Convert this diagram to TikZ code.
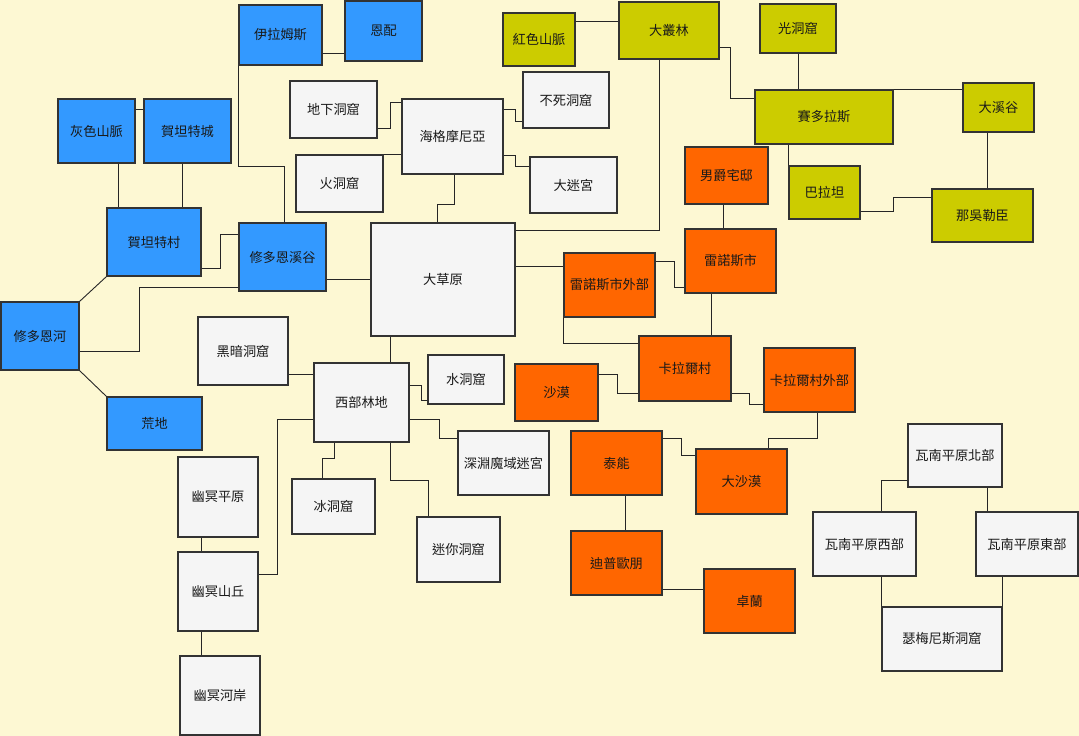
\documentclass[tikz,border=0pt]{standalone}
\usepackage{fontspec}
\setmainfont{Noto Sans CJK TC}
\definecolor{bgc}{HTML}{FDF8D3}
\definecolor{bluec}{HTML}{3399FF}
\definecolor{whitec}{HTML}{F5F5F5}
\definecolor{yelc}{HTML}{CCCC00}
\definecolor{orc}{HTML}{FF6600}
\definecolor{edgec}{HTML}{333333}
\newcommand\mybox[7]{\node[box,#6,minimum width={(#4-#2)*1pt},minimum height={(#5-#3)*1pt}] (#1) at ({(#2+#4)/2},{(#3+#5)/2}) {#7};}
\tikzset{
  box/.style={draw=edgec,line width=1.1pt,inner sep=0pt,font=\fontsize{13.2}{15}\selectfont,text=black!90},
  bl/.style={fill=bluec},
  wh/.style={fill=whitec},
  ye/.style={fill=yelc},
  orn/.style={fill=orc},
  conn/.style={draw=black!85,line width=0.9pt}
}
\begin{document}
\begin{tikzpicture}[x=1pt,y=-1pt]
\useasboundingbox (0,0) rectangle (1079,736);
\fill[bgc] (0,0) rectangle (1079,736);
% blue
\mybox{ilams}{239}{5}{322}{65}{bl}{伊拉姆斯}
\mybox{enpei}{345}{1}{422}{61}{bl}{恩配}
\mybox{huise}{58}{99}{135}{163}{bl}{灰色山脈}
\mybox{htcity}{144}{99}{231}{163}{bl}{賀坦特城}
\mybox{htvil}{107}{208}{201}{276}{bl}{賀坦特村}
\mybox{xdvalley}{239}{223}{326}{291}{bl}{修多恩溪谷}
\mybox{xdriver}{1}{302}{79}{370}{bl}{修多恩河}
\mybox{huangdi}{107}{397}{202}{450}{bl}{荒地}
% white
\mybox{dixia}{290}{81}{377}{138}{wh}{地下洞窟}
\mybox{hgmny}{402}{99}{503}{174}{wh}{海格摩尼亞}
\mybox{huo}{296}{155}{383}{212}{wh}{火洞窟}
\mybox{dcy}{371}{223}{515}{336}{wh}{大草原}
\mybox{busi}{523}{72}{609}{128}{wh}{不死洞窟}
\mybox{dmg}{530}{157}{617}{213}{wh}{大迷宮}
\mybox{heian}{198}{317}{288}{385}{wh}{黑暗洞窟}
\mybox{xblin}{314}{363}{409}{442}{wh}{西部林地}
\mybox{shui}{428}{355}{504}{404}{wh}{水洞窟}
\mybox{shenyuan}{458}{431}{549}{495}{wh}{深淵魔域迷宮}
\mybox{bing}{292}{479}{375}{534}{wh}{冰洞窟}
\mybox{mini}{417}{517}{500}{582}{wh}{迷你洞窟}
\mybox{ympy}{178}{457}{258}{537}{wh}{幽冥平原}
\mybox{ymsq}{178}{552}{258}{631}{wh}{幽冥山丘}
\mybox{ymha}{180}{656}{260}{735}{wh}{幽冥河岸}
\mybox{wnb}{908}{424}{1002}{487}{wh}{瓦南平原北部}
\mybox{wnx}{813}{512}{916}{576}{wh}{瓦南平原西部}
\mybox{wnd}{976}{512}{1078}{576}{wh}{瓦南平原東部}
\mybox{smns}{882}{607}{1002}{671}{wh}{瑟梅尼斯洞窟}
% yellow
\mybox{hongse}{503}{13}{575}{66}{ye}{紅色山脈}
\mybox{dcl}{619}{2}{719}{59}{ye}{大叢林}
\mybox{guang}{760}{4}{836}{53}{ye}{光洞窟}
\mybox{sdls}{755}{90}{893}{144}{ye}{賽多拉斯}
\mybox{dxg}{963}{83}{1034}{132}{ye}{大溪谷}
\mybox{blt}{789}{166}{860}{219}{ye}{巴拉坦}
\mybox{nwlc}{932}{189}{1033}{242}{ye}{那吳勒臣}
% orange
\mybox{njzd}{685}{147}{768}{204}{orn}{男爵宅邸}
\mybox{lnss}{685}{229}{776}{293}{orn}{雷諾斯市}
\mybox{lnsw}{564}{253}{655}{317}{orn}{雷諾斯市外部}
\mybox{klev}{639}{336}{731}{401}{orn}{卡拉爾村}
\mybox{klew}{764}{348}{855}{412}{orn}{卡拉爾村外部}
\mybox{shamo}{515}{364}{598}{421}{orn}{沙漠}
\mybox{taineng}{571}{431}{662}{495}{orn}{泰能}
\mybox{dsm}{696}{449}{787}{514}{orn}{大沙漠}
\mybox{dpob}{571}{531}{662}{595}{orn}{迪普歐朋}
\mybox{zhuolan}{704}{569}{795}{633}{orn}{卓蘭}
% connectors
\begin{scope}[every path/.style=conn]
\draw (ilams.east |- 0,53) -- (enpei.west |- 0,53);
\draw (ilams.south west) |- (284,166) -- (284,0 |- xdvalley.north);
\draw (huise.east |- 0,109) -- (htcity.west |- 0,109);
\draw (118,0 |- huise.south) -- (118,0 |- htvil.north);
\draw (182,0 |- htcity.south) -- (182,0 |- htvil.north);
\draw (htvil.east |- 0,268) -| (220,234) -- (xdvalley.west |- 0,234);
\draw (htvil.south west) -- (xdriver.north east);
\draw (xdvalley.west |- 0,287) -| (139,351) -- (xdriver.east |- 0,351);
\draw (xdvalley.east |- 0,279) -- (dcy.west |- 0,279);
\draw (xdriver.south east) -- (huangdi.north west);
\draw (dixia.east |- 0,128) -| (390,102) -- (hgmny.west |- 0,102);
\draw (huo.north east) -- (hgmny.west |- huo.north east);
\draw (hgmny.east |- 0,109) -| (515,121) -- (busi.west |- 0,121);
\draw (hgmny.east |- 0,155) -| (515,166) -- (dmg.west |- 0,166);
\draw (454,0 |- hgmny.south) |- (437,204) -- (437,0 |- dcy.north);
\draw (dcy.east |- 0,230) -| (659,0 |- dcl.south);
\draw (dcy.east |- 0,266) -- (lnsw.west |- 0,266);
\draw (390,0 |- dcy.south) -- (390,0 |- xblin.north);
\draw (hongse.east |- 0,21) -- (dcl.west |- 0,21);
\draw (dcl.east |- 0,47) -| (730,98) -- (sdls.west |- 0,98);
\draw (798,0 |- guang.south) -- (798,0 |- sdls.north);
\draw (sdls.north east) -- (dxg.west |- sdls.north east);
\draw (987,0 |- dxg.south) -- (987,0 |- nwlc.north);
\draw (blt.north west) -- (blt.north west |- sdls.south);
\draw (blt.east |- 0,211) -| (893,197) -- (nwlc.west |- 0,197);
\draw (723,0 |- njzd.south) -- (723,0 |- lnss.north);
\draw (lnsw.east |- 0,261) -| (674,287) -- (lnss.west |- 0,287);
\draw (711,0 |- lnss.south) -- (711,0 |- klev.north);
\draw (lnsw.south west) |- (klev.west |- 0,343);
\draw (shamo.east |- 0,374) -| (617,393) -- (klev.west |- 0,393);
\draw (klev.east |- 0,393) -| (749,404) -- (klew.west |- 0,404);
\draw (817,0 |- klew.south) |- (768,438) -- (768,0 |- dsm.north);
\draw (taineng.east |- 0,438) -| (681,455) -- (dsm.west |- 0,455);
\draw (625,0 |- taineng.south) -- (625,0 |- dpob.north);
\draw (dpob.east |- 0,589) -- (zhuolan.west |- 0,589);
\draw (wnb.west |- 0,480) -| (881,0 |- wnx.north);
\draw (987,0 |- wnb.south) -- (987,0 |- wnd.north);
\draw (smns.north west) -- (smns.north west |- wnx.south);
\draw (smns.north east) -- (smns.north east |- wnd.south);
\draw (heian.east |- 0,374) -- (xblin.west |- 0,374);
\draw (xblin.east |- 0,385) -| (421,400) -- (shui.west |- 0,400);
\draw (xblin.east |- 0,419) -| (439,438) -- (shenyuan.west |- 0,438);
\draw (334,0 |- xblin.south) |- (322,458) -- (322,0 |- bing.north);
\draw (390,0 |- xblin.south) |- (428,480) -- (428,0 |- mini.north);
\draw (xblin.west |- 0,419) -| (277,574) -- (ymsq.east |- 0,574);
\draw (201,0 |- ympy.south) -- (201,0 |- ymsq.north);
\draw (201,0 |- ymsq.south) -- (201,0 |- ymha.north);
\end{scope}
\end{tikzpicture}
\end{document}
